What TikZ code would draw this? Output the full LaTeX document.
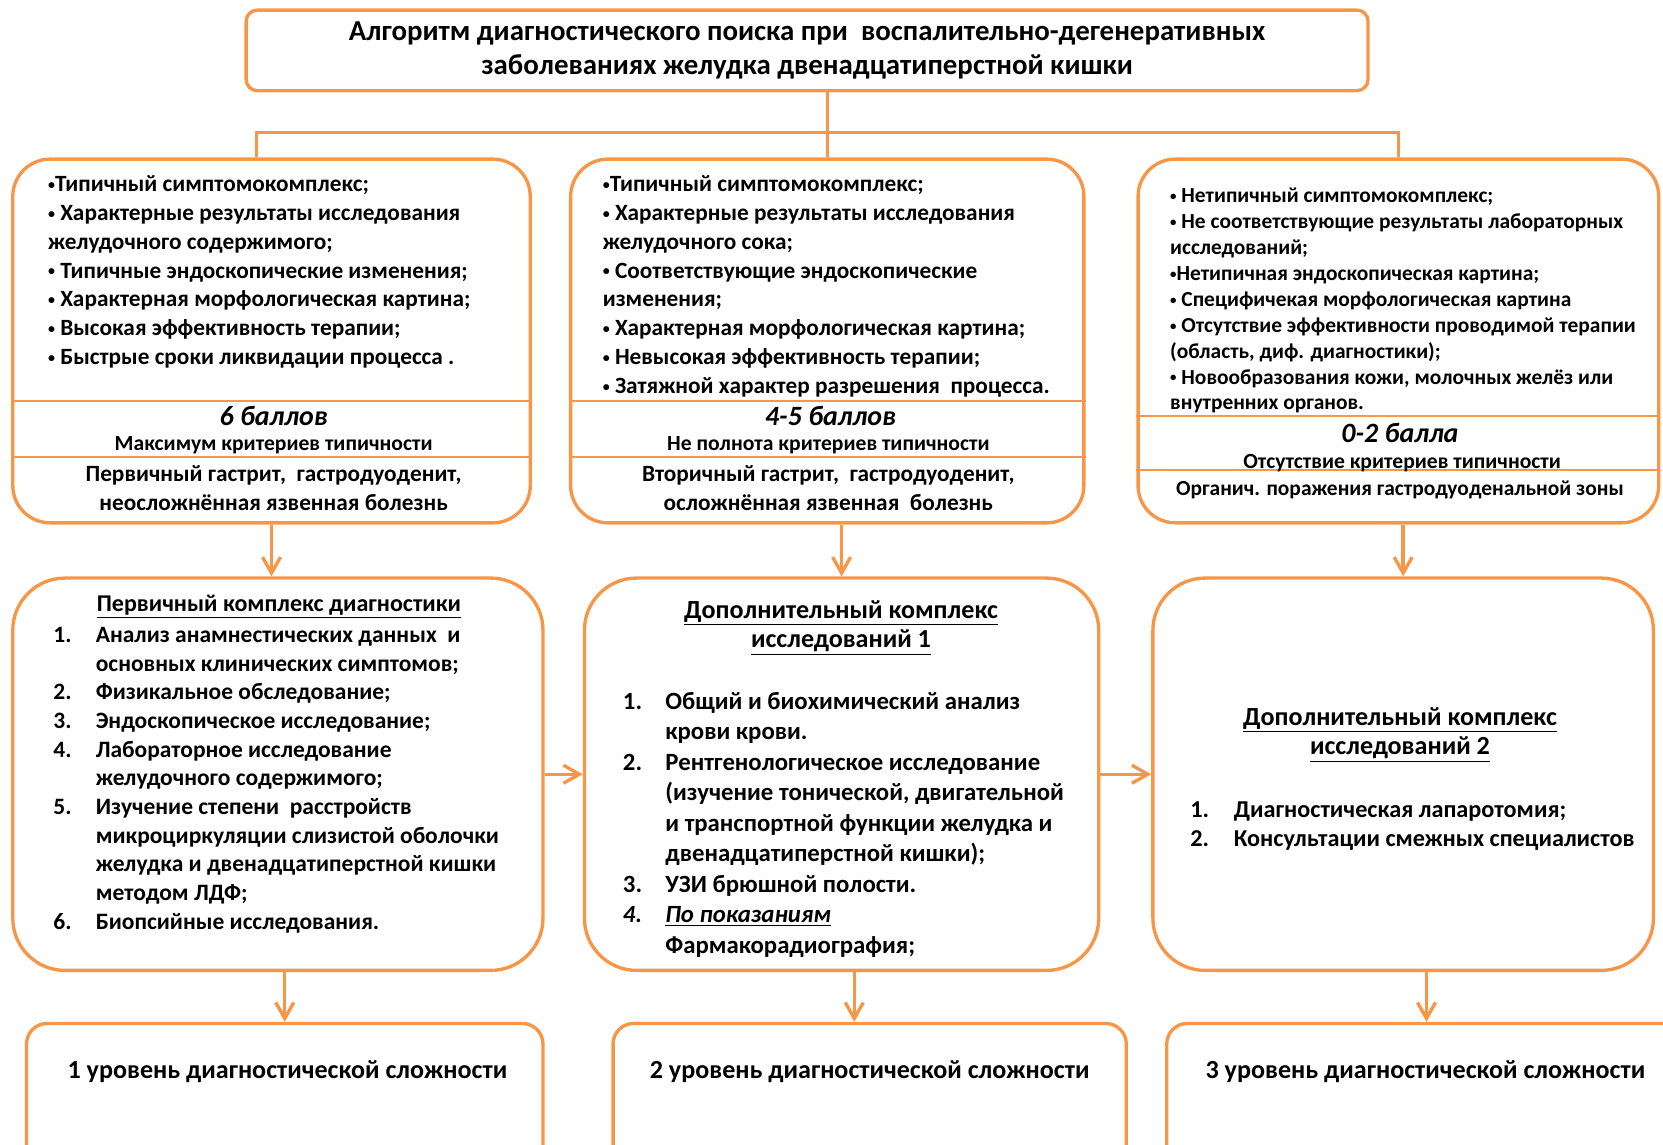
\documentclass[tikz,border=0pt]{standalone}
\usepackage{fontspec}
\setmainfont{Carlito}
\usetikzlibrary{positioning,arrows.meta}
\definecolor{ornge}{HTML}{F79646}
\newcommand{\fsz}[2]{\fontsize{#1}{#2}\selectfont}
\newcommand{\bl}{\raisebox{0.1em}{\scalebox{0.6}{•}}}

\begin{document}
\begin{tikzpicture}[x=0.02cm,y=-0.02cm,font=\bfseries,
  frm/.style={draw=ornge,line width=1.8pt,rounded corners=#1,inner sep=0pt},
  conn/.style={draw=ornge,line width=1.8pt},
  arr/.style={conn,-{Straight Barb[length=3mm,width=3.4mm]}},
  sep/.style={draw=ornge,line width=1.2pt},
  txt/.style={inner sep=0pt,align=left,anchor=west},
  lst/.style={inner sep=0pt,anchor=west},
  ctr/.style={inner sep=0pt,align=center}]
  \useasboundingbox (0,0) rectangle (1568,1079);
  \clip (0,0) rectangle (1568,1079);

  % title
  \node[frm=6pt,minimum width=21.16cm,minimum height=1.52cm,align=center,
    font=\bfseries\fsz{15.5}{18.2}] (title) at (761,47.5)
    {Алгоритм диагностического поиска при~ воспалительно-дегенеративных\\
     заболеваниях желудка двенадцатиперстной кишки};

  % criteria boxes
  \node[frm=20pt,minimum width=9.76cm,minimum height=6.86cm] (topA) at (256,321.5) {};
  \node[frm=20pt,minimum width=9.68cm,minimum height=6.86cm] (topB) at (780,321.5) {};
  \node[frm=20pt,minimum width=9.82cm,minimum height=6.86cm] (topC) at (1318.5,321.5) {};
  \draw[sep] (topA.west |- 0,378) -- (topA.east |- 0,378);
  \draw[sep] (topA.west |- 0,431) -- (topA.east |- 0,431);
  \draw[sep] (topB.west |- 0,378) -- (topB.east |- 0,378);
  \draw[sep] (topB.west |- 0,431) -- (topB.east |- 0,431);
  \draw[sep] (topC.west |- 0,392) -- (topC.east |- 0,392);
  \draw[sep] (topC.west |- 0,443) -- (topC.east |- 0,443);

  \node[txt,font=\bfseries\fsz{12.5}{15.47}] (critA) at (45,256.5)
    {\bl Типичный симптомокомплекс;\\
     \bl\ Характерные результаты исследования\\
     желудочного содержимого;\\
     \bl\ Типичные эндоскопические изменения;\\
     \bl\ Характерная морфологическая картина;\\
     \bl\ Высокая эффективность терапии;\\
     \bl\ Быстрые сроки ликвидации процесса .};
  \node[ctr,font=\bfseries\itshape\fsz{15}{18}] (scA) at (258,392) {6 баллов};
  \node[ctr,font=\bfseries\fsz{11.6}{13}] (tpA) at (258,420) {Максимум критериев типичности};
  \node[ctr,font=\bfseries\fsz{12.5}{15.4}] (dxA) at (258,460.5)
    {Первичный гастрит,~ гастродуоденит,\\неосложнённая язвенная болезнь};

  \node[txt,font=\bfseries\fsz{12.5}{15.47}] (critB) at (568,270)
    {\bl Типичный симптомокомплекс;\\
     \bl\ Характерные результаты исследования\\
     желудочного сока;\\
     \bl\ Соответствующие эндоскопические\\
     изменения;\\
     \bl\ Характерная морфологическая картина;\\
     \bl\ Невысокая эффективность терапии;\\
     \bl\ Затяжной характер разрешения~ процесса.};
  \node[ctr,font=\bfseries\itshape\fsz{15}{18}] (scB) at (783,392) {4-5 баллов};
  \node[ctr,font=\bfseries\fsz{11.6}{13}] (tpB) at (781,420) {Не полнота критериев типичности};
  \node[ctr,font=\bfseries\fsz{12.5}{15.4}] (dxB) at (781,460.5)
    {Вторичный гастрит,~ гастродуоденит,\\осложнённая язвенная~ болезнь};

  \node[txt,font=\bfseries\fsz{11.5}{13.9}] (critC) at (1103,283.5)
    {\bl\ Нетипичный симптомокомплекс;\\
     \bl\ Не соответствующие результаты лабораторных\\
     исследований;\\
     \bl Нетипичная эндоскопическая картина;\\
     \bl\ Специфичекая морфологическая картина\\
     \bl\ Отсутствие эффективности проводимой терапии\\
     (область, диф. диагностики);\\
     \bl\ Новообразования кожи, молочных желёз или\\
     внутренних органов.};
  \node[ctr,font=\bfseries\itshape\fsz{15}{18}] (scC) at (1320,408) {0-2 балла};
  \node[ctr,font=\bfseries\fsz{11.6}{13}] (tpC) at (1322,437) {Отсутствие критериев типичности};
  \node[ctr,font=\bfseries\fsz{11.5}{14}] (dxC) at (1320,462)
    {Органич. поражения гастродуоденальной зоны};

  % examination boxes
  \node[frm=28pt,minimum width=10cm,minimum height=7.4cm] (midD) at (262,730) {};
  \node[frm=28pt,minimum width=9.7cm,minimum height=7.4cm] (midE) at (793.5,730) {};
  \node[frm=28pt,minimum width=9.44cm,minimum height=7.4cm] (midF) at (1323,730) {};

  \node[ctr,font=\bfseries\fsz{12.9}{16}] (hdD) at (263,572)
    {\underline{Первичный комплекс диагностики}};
  \node[lst,font=\bfseries\fsz{12.6}{15.4}] (listD) at (50,735.5)
    {\begin{tabular}{@{}p{0.8cm}@{}l@{}}
     1. & Анализ анамнестических данных~ и\\
        & основных клинических симптомов;\\
     2. & Физикальное обследование;\\
     3. & Эндоскопическое исследование;\\
     4. & Лабораторное исследование\\
        & желудочного содержимого;\\
     5. & Изучение степени~ расстройств\\
        & микроциркуляции слизистой оболочки\\
        & желудка и двенадцатиперстной кишки\\
        & методом ЛДФ;\\
     6. & Биопсийные исследования.
     \end{tabular}};

  \node[ctr,font=\bfseries\fsz{14}{15.9}] (hdE) at (793,592)
    {\underline{Дополнительный комплекс}\\\underline{исследований 1}};
  \node[lst,font=\bfseries\fsz{13.3}{16.36}] (listE) at (587,778)
    {\begin{tabular}{@{}p{0.8cm}@{}l@{}}
     1. & Общий и биохимический анализ\\
        & крови крови.\\
     2. & Рентгенологическое исследование\\
        & (изучение тонической, двигательной\\
        & и транспортной функции желудка и\\
        & двенадцатиперстной кишки);\\
     3. & УЗИ брюшной полости.\\
     \textit{4.} & \itshape\underline{По показаниям}\\
        & Фармакорадиография;
     \end{tabular}};

  \node[ctr,font=\bfseries\fsz{14}{15.9}] (hdF) at (1320,693)
    {\underline{Дополнительный комплекс}\\\underline{исследований 2}};
  \node[lst,font=\bfseries\fsz{13}{15.9}] (listF) at (1122,779)
    {\begin{tabular}{@{}p{0.82cm}@{}l@{}}
     1. & Диагностическая лапаротомия;\\
     2. & Консультации смежных специалистов
     \end{tabular}};

  % levels
  \node[frm=11pt,minimum width=9.74cm,minimum height=3.3cm] (botG) at (268.5,1047.5) {};
  \node[frm=11pt,minimum width=9.68cm,minimum height=3.3cm] (botH) at (820,1047.5) {};
  \node[frm=11pt,minimum width=9.8cm,minimum height=3.3cm] (botI) at (1345,1047.5) {};
  \node[ctr,font=\bfseries\fsz{14}{17}] (lvG) at (271,1010) {1 уровень диагностической сложности};
  \node[ctr,font=\bfseries\fsz{14}{17}] (lvH) at (820,1010) {2 уровень диагностической сложности};
  \node[ctr,font=\bfseries\fsz{14}{17}] (lvI) at (1344,1010) {3 уровень диагностической сложности};

  % connectors
  \coordinate (bus) at (0,125);
  \draw[conn] (title.south -| topB.north) -- (topB.north);
  \draw[conn] ([xshift=-0.28cm]topA.north) |- (topC.north |- bus) -- (topC.north);
  \draw[arr] (topA.south) -- (topA.south |- midD.north);
  \draw[arr] (midE.north |- topB.south) -- (midE.north);
  \draw[arr] (midF.north |- topC.south) -- (midF.north);
  \draw[arr] (midD.east) -- (midE.west);
  \draw[arr] (midE.east) -- (midF.west);
  \draw[arr] (botG.north |- midD.south) -- (botG.north);
  \draw[arr] ([xshift=0.24cm]midE.south) -- ([xshift=0.24cm]midE.south |- botH.north);
  \draw[arr] (botI.north |- midF.south) -- (botI.north);
\end{tikzpicture}
\end{document}
